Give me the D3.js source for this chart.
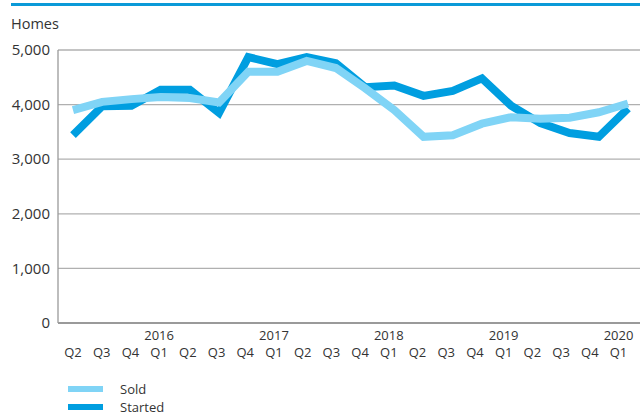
<!DOCTYPE html>
<html><head><meta charset="utf-8">
<script src="https://cdn.jsdelivr.net/npm/d3@7"></script>
<style>body{margin:0;background:#fff}svg{display:block;font-family:"Open Sans","Noto Sans",sans-serif}</style>
</head><body>
<svg id="c" width="640" height="416"></svg>
<script>
const quarters = ["Q2","Q3","Q4","Q1","Q2","Q3","Q4","Q1","Q2","Q3","Q4","Q1","Q2","Q3","Q4","Q1","Q2","Q3","Q4","Q1"];
const years = ["","","","2016","","","","2017","","","","2018","","","","2019","","","","2020"];
const sold = [3900,4050,4100,4140,4120,4040,4600,4600,4800,4670,4300,3900,3410,3440,3650,3770,3740,3760,3860,4020];
const started = [3440,3970,3980,4270,4270,3850,4870,4740,4870,4760,4320,4350,4160,4250,4480,3980,3660,3480,3410,3930];
const yTicks = [0,1000,2000,3000,4000,5000];
const seriesNames = ["Sold","Started"];
const colors = ["#80d4f6","#009ee0"];

(function(){
const svg = d3.select("#c");
const pl = 58, pr = 640, pt = 50, pb = 323;
const idx = d3.range(quarters.length);
const x = d3.scalePoint().domain(idx).range([73, 628]);
const y = d3.scaleLinear().domain([0,5000]).range([pb, pt]);

svg.append("rect").attr("x",11).attr("y",3).attr("width",629).attr("height",3).attr("fill","#0a9ad8");

svg.append("g").selectAll("line").data(yTicks.filter(d=>d>0)).join("line")
  .attr("x1",pl).attr("x2",pr).attr("y1",d=>y(d)).attr("y2",d=>y(d))
  .attr("stroke","#b0b0b0").attr("stroke-width",1.3);
svg.append("line").attr("x1",pl).attr("x2",pl).attr("y1",pt).attr("y2",pb).attr("stroke","#9a9a9a").attr("stroke-width",1.3);
svg.append("line").attr("x1",pl).attr("x2",pr).attr("y1",pb).attr("y2",pb).attr("stroke","#9a9a9a").attr("stroke-width",2);

svg.append("g").selectAll("text").data(yTicks).join("text")
  .attr("x",50).attr("y",d=>y(d)).attr("dy","0.35em").attr("text-anchor","end")
  .attr("font-size",15).attr("fill","#333").text(d=>d3.format(",")(d));
svg.append("text").attr("x",11).attr("y",29).attr("font-size",14.5).attr("fill","#333").text("Homes");

svg.append("g").selectAll("text").data(idx).join("text")
  .attr("x",i=>x(i)-0.5*i).attr("y",357).attr("text-anchor","middle")
  .attr("font-size",13).attr("fill","#333").text(i=>quarters[i]);
svg.append("g").selectAll("text").data(idx.filter(i=>years[i])).join("text")
  .attr("x",i=>x(i)-0.5*i).attr("y",340).attr("text-anchor","middle")
  .attr("font-size",13).attr("fill","#333").text(i=>years[i]);

const line = d3.line().x((d,i)=>x(i)).y(d=>y(d));
[[started,colors[1]],[sold,colors[0]]].forEach(([data,c])=>{
  svg.append("path").datum(data).attr("d",line).attr("fill","none")
    .attr("stroke",c).attr("stroke-width",8).attr("stroke-linejoin","miter");
});

seriesNames.forEach((n,k)=>{
  const yy = 389 + k*18;
  svg.append("line").attr("x1",68).attr("x2",103).attr("y1",yy).attr("y2",yy)
    .attr("stroke",colors[k]).attr("stroke-width",6);
  svg.append("text").attr("x",120).attr("y",yy).attr("dy","0.35em")
    .attr("font-size",13).attr("fill","#333").text(n);
});
})();
</script>
</body></html>
